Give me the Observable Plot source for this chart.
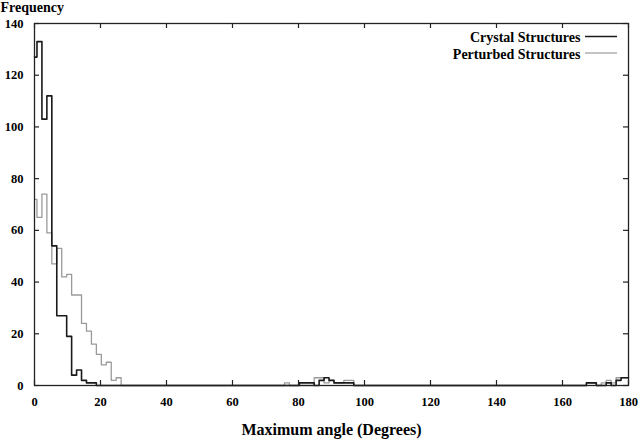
<!DOCTYPE html>
<html><head><meta charset="utf-8">
<script src="https://cdn.jsdelivr.net/npm/d3@7"></script>
<script src="https://cdn.jsdelivr.net/npm/@observablehq/plot@0.6"></script>
<style>html,body{margin:0;padding:0;background:#fff;}</style>
</head><body><div id="chart"></div>
<script>
// Histogram bin centres: 0 to 180 degrees, 1.5 degree bins (121 bins)
const binCenters = d3.range(0, 180.001, 1.5);

// Counts per bin
const crystalCounts = [
  127, 133, 103, 112, 54, 27, 27, 19, 4, 6, 2, 1, 1,
  0, 0, 0, 0, 0, 0, 0, 0, 0, 0,
  0, 0, 0, 0, 0, 0, 0, 0, 0, 0,
  0, 0, 0, 0, 0, 0, 0, 0, 0, 0,
  0, 0, 0, 0, 0, 0, 0, 0, 0, 0,
  0,
  1, 1, 1, 0, 2, 3, 2, 1, 1, 1, 1,
  0, 0, 0, 0, 0, 0, 0, 0, 0, 0,
  0, 0, 0, 0, 0, 0, 0, 0, 0, 0,
  0, 0, 0, 0, 0, 0, 0, 0, 0, 0,
  0, 0, 0, 0, 0, 0, 0, 0, 0, 0,
  0, 0, 0, 0, 0, 0, 0,
  1, 1, 0, 0, 1, 0, 2, 3, 3
];
const perturbedCounts = [
  72, 65, 74, 59, 47, 53, 42, 43, 35, 35, 24, 21, 16, 12, 8, 9, 2, 3,
  0, 0, 0, 0, 0, 0, 0, 0, 0, 0,
  0, 0, 0, 0, 0, 0, 0, 0, 0, 0,
  0, 0, 0, 0, 0, 0, 0, 0, 0, 0,
  0, 0, 0,
  1,
  0, 0, 0, 0, 0,
  3, 3, 1, 2, 1, 1, 2, 2,
  0, 0, 0, 0, 0, 0, 0, 0, 0, 0,
  0, 0, 0, 0, 0, 0, 0, 0, 0, 0,
  0, 0, 0, 0, 0, 0, 0, 0, 0, 0,
  0, 0, 0, 0, 0, 0, 0, 0, 0, 0,
  0, 0, 0, 0, 0, 0, 0,
  1, 1, 0, 1, 2, 1, 3, 3, 3
];

const xTicks = [0, 20, 40, 60, 80, 100, 120, 140, 160, 180];
const yTicks = [0, 20, 40, 60, 80, 100, 120, 140];
const seriesNames = ["Crystal Structures", "Perturbed Structures"];
const seriesColors = ["#1a1a1a", "#9a9a9a"];
const yTitle = "Frequency";
const xTitle = "Maximum angle (Degrees)";

const crystal = binCenters.map((a, i) => ({angle: a, count: crystalCounts[i]}));
const perturbed = binCenters.map((a, i) => ({angle: a, count: perturbedCounts[i]}));

const W = 640, H = 439, mL = 34, mR = 12, mT = 23, mB = 54;
const innerW = W - mL - mR, innerH = H - mT - mB;
const tl = 5;
const legendLineDy = [13.5, 30];
const legendTextDy = [9, 25.5];

const chart = Plot.plot({
  width: W, height: H,
  marginLeft: mL, marginRight: mR, marginTop: mT, marginBottom: mB,
  style: {fontFamily: "'Liberation Serif','Times New Roman',serif", fontSize: "12.5px", fontWeight: "bold", background: "#fff", color: "#000"},
  x: {domain: [0, 180]},
  y: {domain: [0, 140]},
  marks: [
    Plot.line(perturbed, {x: "angle", y: "count", curve: "step", stroke: seriesColors[1], strokeWidth: 1.3}),
    Plot.line(crystal, {x: "angle", y: "count", curve: "step", stroke: seriesColors[0], strokeWidth: 1.6}),
    Plot.frame({stroke: "#222", strokeWidth: 1.3}),
    Plot.tickX(xTicks, {x: d => d, insetTop: innerH - tl, stroke: "#222", strokeWidth: 1.2}),
    Plot.tickX(xTicks, {x: d => d, insetBottom: innerH - tl, stroke: "#222", strokeWidth: 1.2}),
    Plot.tickY(yTicks, {y: d => d, insetRight: innerW - tl, stroke: "#222", strokeWidth: 1.2}),
    Plot.tickY(yTicks, {y: d => d, insetLeft: innerW - tl, stroke: "#222", strokeWidth: 1.2}),
    Plot.axisX({ticks: xTicks, tickSize: 0, tickPadding: 12, label: null}),
    Plot.axisY({ticks: yTicks, tickSize: 0, tickPadding: 11, label: null}),
    Plot.text([yTitle], {text: d => d, frameAnchor: "top-left", dx: -mL, dy: -21, textAnchor: "start", fontSize: 14}),
    Plot.text([xTitle], {text: d => d, frameAnchor: "bottom", dy: 49, fontSize: 16}),
    Plot.text([seriesNames[0]], {text: d => d, frameAnchor: "top-right", dx: -48, dy: legendTextDy[0], textAnchor: "end", fontSize: 14}),
    Plot.text([seriesNames[1]], {text: d => d, frameAnchor: "top-right", dx: -48, dy: legendTextDy[1], textAnchor: "end", fontSize: 14})
  ]
});
document.getElementById("chart").appendChild(chart);

// legend line samples beside the legend texts
const svg = d3.select(chart);
seriesNames.forEach((n, i) => {
  const y = mT + legendLineDy[i];
  svg.append("line").attr("x1", 585).attr("x2", 617).attr("y1", y).attr("y2", y)
    .attr("stroke", seriesColors[i]).attr("stroke-width", i === 0 ? 1.5 : 1.2);
});
</script>
</body></html>
